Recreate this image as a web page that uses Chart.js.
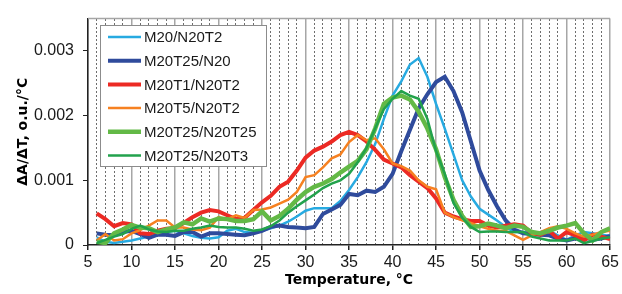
<!DOCTYPE html>
<html>
<head>
<meta charset="utf-8">
<script src="https://cdn.jsdelivr.net/npm/chart.js@4.4.1/dist/chart.umd.min.js"></script>
<style>
    html, body { margin: 0; padding: 0; background: #fff; }
    #wrap { width: 622px; height: 294px; }
</style>
</head>
<body>
<div id="wrap"><canvas id="chart" width="622" height="294"></canvas></div>
<script>
// temperature, °C
const temps = [6, 7, 8, 9, 10, 11, 12, 13, 14, 15,
    16, 17, 18, 19, 20, 21, 22, 23, 24, 25,
    26, 27, 28, 29, 30, 31, 32, 33, 34, 35,
    36, 37, 38, 39, 40, 41, 42, 43, 44, 45,
    46, 47, 48, 49, 50, 51, 52, 53, 54, 55,
    56, 57, 58, 59, 60, 61, 62, 63, 64, 65];

const seriesNames = ['M20/N20T2', 'M20T25/N20', 'M20T1/N20T2', 'M20T5/N20T2', 'M20T25/N20T25', 'M20T25/N20T3'];

// dA/dT, o.u./°C
const m20_n20t2 = [0.00012, 0.00005, 0.00003, 0.00005, 0.00007, 0.00010, 0.00013, 0.00017, 0.00020, 0.00022,
    0.00018, 0.00014, 0.00011, 0.00010, 0.00012, 0.00022, 0.00025, 0.00020, 0.00019, 0.00022,
    0.00026, 0.00030, 0.00036, 0.00044, 0.00053, 0.00057, 0.00057, 0.00057, 0.00068, 0.00085,
    0.00105, 0.00128, 0.00156, 0.00195, 0.00231, 0.00253, 0.00279, 0.00289, 0.00260, 0.00218,
    0.00180, 0.00140, 0.00100, 0.00075, 0.00056, 0.00047, 0.00038, 0.00028, 0.00020, 0.00020,
    0.00019, 0.00020, 0.00022, 0.00015, 0.00008, 0.00015, 0.00020, 0.00018, 0.00016, 0.00014];
const m20t25_n20 = [0.00018, 0.00016, 0.00015, 0.00020, 0.00022, 0.00017, 0.00011, 0.00016, 0.00016, 0.00014,
    0.00020, 0.00020, 0.00013, 0.00018, 0.00018, 0.00017, 0.00016, 0.00015, 0.00018, 0.00022,
    0.00028, 0.00030, 0.00028, 0.00027, 0.00026, 0.00028, 0.00048, 0.00055, 0.00062, 0.00079,
    0.00077, 0.00084, 0.00082, 0.00090, 0.00110, 0.00145, 0.00178, 0.00211, 0.00233, 0.00252,
    0.00260, 0.00238, 0.00205, 0.00160, 0.00115, 0.00085, 0.00060, 0.00038, 0.00024, 0.00018,
    0.00017, 0.00016, 0.00015, 0.00010, 0.00007, 0.00010, 0.00012, 0.00008, 0.00010, 0.00014];
const m20t1_n20t2 = [0.00049, 0.00040, 0.00029, 0.00034, 0.00032, 0.00018, 0.00017, 0.00022, 0.00025, 0.00026,
    0.00034, 0.00043, 0.00050, 0.00054, 0.00052, 0.00046, 0.00040, 0.00042, 0.00054, 0.00066,
    0.00076, 0.00090, 0.00098, 0.00115, 0.00135, 0.00146, 0.00152, 0.00160, 0.00170, 0.00175,
    0.00170, 0.00160, 0.00147, 0.00132, 0.00126, 0.00120, 0.00108, 0.00098, 0.00088, 0.00072,
    0.00050, 0.00044, 0.00040, 0.00037, 0.00037, 0.00030, 0.00027, 0.00030, 0.00032, 0.00030,
    0.00018, 0.00016, 0.00022, 0.00010, 0.00020, 0.00015, 0.00007, 0.00016, 0.00013, 0.00009];
const m20t5_n20t2 = [0.00007, 0.00017, 0.00007, 0.00009, 0.00018, 0.00023, 0.00030, 0.00038, 0.00038, 0.00027,
    0.00027, 0.00024, 0.00023, 0.00027, 0.00043, 0.00040, 0.00046, 0.00042, 0.00054, 0.00055,
    0.00058, 0.00064, 0.00070, 0.00082, 0.00105, 0.00108, 0.00120, 0.00134, 0.00140, 0.00159,
    0.00170, 0.00162, 0.00165, 0.00148, 0.00126, 0.00122, 0.00115, 0.00100, 0.00090, 0.00086,
    0.00050, 0.00043, 0.00038, 0.00034, 0.00029, 0.00025, 0.00022, 0.00022, 0.00015, 0.00008,
    0.00015, 0.00020, 0.00026, 0.00029, 0.00025, 0.00018, 0.00013, 0.00016, 0.00020, 0.00022];
const m20t25_n20t25 = [0.00005, 0.00003, 0.00018, 0.00024, 0.00031, 0.00027, 0.00026, 0.00020, 0.00024, 0.00027,
    0.00035, 0.00032, 0.00041, 0.00036, 0.00041, 0.00040, 0.00037, 0.00037, 0.00040, 0.00052,
    0.00038, 0.00045, 0.00056, 0.00070, 0.00082, 0.00090, 0.00095, 0.00102, 0.00112, 0.00121,
    0.00130, 0.00148, 0.00180, 0.00218, 0.00228, 0.00231, 0.00225, 0.00206, 0.00180, 0.00148,
    0.00105, 0.00070, 0.00045, 0.00028, 0.00029, 0.00033, 0.00030, 0.00026, 0.00030, 0.00028,
    0.00020, 0.00018, 0.00022, 0.00027, 0.00030, 0.00034, 0.00018, 0.00007, 0.00020, 0.00026];
const m20t25_n20t3 = [0.00003, 0.00008, 0.00013, 0.00017, 0.00025, 0.00030, 0.00024, 0.00021, 0.00020, 0.00022,
    0.00022, 0.00025, 0.00027, 0.00030, 0.00028, 0.00027, 0.00027, 0.00025, 0.00022, 0.00024,
    0.00029, 0.00038, 0.00050, 0.00060, 0.00069, 0.00078, 0.00088, 0.00095, 0.00100, 0.00110,
    0.00128, 0.00150, 0.00180, 0.00210, 0.00226, 0.00238, 0.00231, 0.00226, 0.00195, 0.00145,
    0.00110, 0.00065, 0.00042, 0.00028, 0.00020, 0.00021, 0.00021, 0.00020, 0.00020, 0.00020,
    0.00013, 0.00010, 0.00007, 0.00007, 0.00007, 0.00010, 0.00003, 0.00006, 0.00010, 0.00012];

const yTicks = [0, 0.001, 0.002, 0.003];

const allSeries = [m20_n20t2, m20t25_n20, m20t1_n20t2, m20t5_n20t2, m20t25_n20t25, m20t25_n20t3];
const colors = ['#27aae1', '#2f4b9c', '#ec2a24', '#f68121', '#63b946', '#22a24c'];
const widths = [2.5, 4, 4, 2.5, 4.5, 2.5];

function makeDatasets() {
    let sets = [];
    for(let i = 0; i < allSeries.length; i++) {
        let pts = [];
        for(let j = 0; j < temps.length; j++) {
            pts.push({ x: temps[j], y: allSeries[i][j] });
        }
        sets.push({
            label: seriesNames[i],
            data: pts,
            borderColor: colors[i],
            backgroundColor: colors[i],
            borderWidth: widths[i],
            pointRadius: 0,
            tension: 0,
            fill: false,
            order: allSeries.length - i
        });
    }
    return sets;
}

// legend in a white box inside the plot area, top left
const boxLegend = {
    id: 'boxLegend',
    afterDatasetsDraw(chart) {
        let ctx = chart.ctx;
        ctx.save();
        ctx.fillStyle = '#fff';
        ctx.fillRect(100, 25, 166, 141);
        ctx.strokeStyle = '#8c8c8c';
        ctx.lineWidth = 1;
        ctx.strokeRect(100.5, 25.5, 166, 141);
        ctx.font = '15px "Liberation Sans", Arial, sans-serif';
        ctx.textBaseline = 'middle';
        ctx.fillStyle = '#1a1a1a';
        chart.data.datasets.forEach((ds, i) => {
            let y = 37 + i * 23.7;
            ctx.strokeStyle = ds.borderColor;
            ctx.lineWidth = ds.borderWidth;
            ctx.beginPath();
            ctx.moveTo(108, y);
            ctx.lineTo(141, y);
            ctx.stroke();
            ctx.fillText(ds.label, 144, y + 1);
        });
        ctx.restore();
    }
};

// grey frame line along the top of the plot
const topFrame = {
    id: 'topFrame',
    beforeDatasetsDraw(chart) {
        let a = chart.chartArea;
        let ctx = chart.ctx;
        ctx.save();
        ctx.strokeStyle = '#a6a6a6';
        ctx.lineWidth = 1.5;
        ctx.beginPath();
        ctx.moveTo(a.left, a.top);
        ctx.lineTo(a.right, a.top);
        ctx.stroke();
        ctx.restore();
    }
};

const tickFont = { family: '"Liberation Sans", Arial, sans-serif', size: 16 };
const titleFont = { family: '"DejaVu Sans", Verdana, sans-serif', size: 14, weight: 'bold' };

let ctx = document.getElementById('chart').getContext('2d');
let chart = new Chart(ctx, {
    type: 'line',
    data: { datasets: makeDatasets() },
    options: {
        responsive: false,
        animation: false,
        layout: { padding: { top: 9, right: 10, left: 0, bottom: 0 } },
        plugins: {
            legend: { display: false },
            tooltip: { enabled: false }
        },
        scales: {
            x: {
                type: 'linear',
                min: 5,
                max: 65,
                ticks: {
                    stepSize: 5,
                    color: '#1a1a1a',
                    font: tickFont,
                    padding: 3,
                    maxRotation: 0
                },
                grid: {
                    color: '#a6a6a6',
                    lineWidth: 1.5,
                    tickLength: 5,
                    tickColor: '#222'
                },
                border: { color: '#222', width: 1.5 },
                title: {
                    display: true,
                    text: 'Temperature, °C',
                    font: titleFont,
                    color: '#000',
                    padding: { top: 0, bottom: 5 }
                },
                afterFit: (scale) => { scale.height = 49; }
            },
            xMinor: {
                type: 'linear',
                position: 'top',
                min: 5,
                max: 65,
                ticks: { display: false, stepSize: 1 },
                grid: {
                    drawTicks: false,
                    lineWidth: 1,
                    color: (c) => (c.tick && c.tick.value % 5 === 0) ? 'rgba(0,0,0,0)' : '#6e6e6e'
                },
                border: { display: false, dash: [2, 2] },
                afterFit: (scale) => { scale.height = 0; }
            },
            y: {
                min: 0,
                max: 0.0035,
                afterBuildTicks: (scale) => {
                    scale.ticks = yTicks.map(v => ({ value: v }));
                },
                ticks: {
                    color: '#1a1a1a',
                    font: tickFont,
                    padding: 9,
                    callback: (v) => v === 0 ? '0' : v.toFixed(3)
                },
                grid: {
                    drawOnChartArea: false,
                    color: '#222',
                    tickLength: 5
                },
                border: { color: '#222', width: 1.5 },
                title: {
                    display: true,
                    text: 'ΔA/ΔT, o.u./°C',
                    font: titleFont,
                    color: '#000',
                    padding: { top: 15, bottom: 0 }
                },
                afterFit: (scale) => { scale.width = 88; }
            }
        }
    },
    plugins: [topFrame, boxLegend]
});
</script>
</body>
</html>
